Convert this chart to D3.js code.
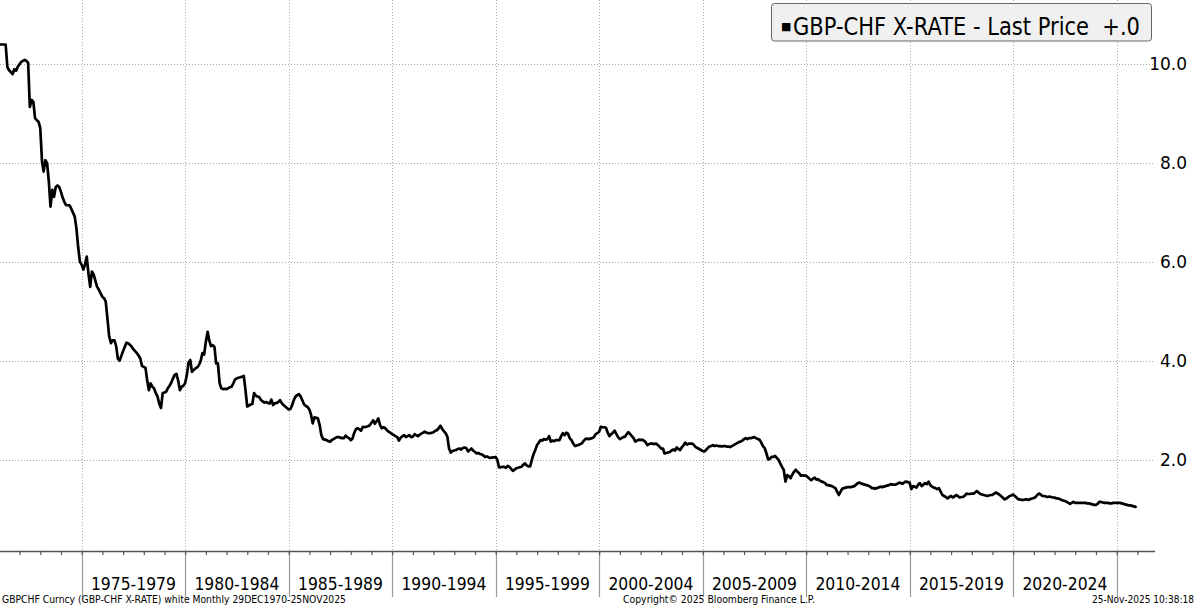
<!DOCTYPE html>
<html><head><meta charset="utf-8">
<script src="https://cdn.jsdelivr.net/npm/d3@7"></script>
<style>html,body{margin:0;padding:0;background:#fff;} svg{display:block;}</style>
</head><body><svg id="chart" width="1200" height="608"></svg>
<script>
// GBP-CHF monthly closes, first value = Dec 1970, one value per month
const rates1970s = [10.40,
  10.40,10.40,10.40,10.40,9.94,9.88,9.84,9.80,9.90,9.87,9.95,10.00,
  10.05,10.07,10.09,10.07,10.03,9.14,9.28,9.24,8.91,8.87,8.84,8.71,
  8.03,7.83,8.06,8.00,7.63,7.12,7.46,7.32,7.52,7.55,7.52,7.42,
  7.30,7.22,7.15,7.15,7.15,7.08,7.00,6.92,6.68,6.30,6.01,5.95,
  5.85,5.95,6.11,5.77,5.50,5.81,5.75,5.62,5.50,5.44,5.37,5.30,
  5.27,5.20,4.85,4.50,4.36,4.42,4.42,4.30,4.05,4.01,4.10,4.20,
  4.29,4.37,4.36,4.33,4.29,4.24,4.20,4.16,4.11,4.05,3.90,3.88,
  3.86,3.62,3.41,3.55,3.48,3.45,3.35,3.28,3.14,3.05,3.35,3.36,
  3.38,3.45,3.50,3.56,3.65,3.72,3.74,3.60,3.41,3.48,3.50,3.55];
const rates1980s = [
  3.72,3.97,4.02,3.78,3.82,3.85,3.87,3.92,4.00,4.16,4.13,4.39,
  4.59,4.42,4.30,4.32,4.29,3.95,3.95,3.55,3.45,3.43,3.44,3.43,
  3.45,3.47,3.48,3.55,3.63,3.65,3.66,3.67,3.68,3.70,3.41,3.08,
  3.10,3.12,3.13,3.35,3.30,3.28,3.27,3.21,3.18,3.16,3.17,3.15,
  3.14,3.22,3.11,3.15,3.15,3.17,3.21,3.15,3.11,3.08,3.05,3.02,
  3.03,3.10,3.21,3.28,3.31,3.33,3.28,3.20,3.12,3.09,3.07,3.02,
  2.91,2.74,2.86,2.85,2.84,2.71,2.50,2.42,2.41,2.40,2.38,2.37,
  2.40,2.42,2.44,2.46,2.46,2.45,2.44,2.44,2.49,2.46,2.44,2.40,
  2.43,2.54,2.62,2.64,2.62,2.59,2.67,2.66,2.67,2.68,2.70,2.75,
  2.80,2.73,2.78,2.84,2.71,2.64,2.66,2.64,2.60,2.57,2.55,2.52];
const rates1990s = [
  2.50,2.48,2.46,2.39,2.45,2.48,2.50,2.46,2.48,2.50,2.46,2.47,
  2.52,2.50,2.48,2.51,2.53,2.55,2.57,2.55,2.54,2.54,2.55,2.56,
  2.59,2.60,2.64,2.69,2.63,2.58,2.54,2.47,2.23,2.15,2.18,2.19,
  2.20,2.22,2.23,2.21,2.24,2.25,2.24,2.17,2.20,2.23,2.19,2.16,
  2.13,2.14,2.12,2.11,2.09,2.06,2.07,2.05,2.04,2.05,2.05,2.06,
  2.00,1.85,1.85,1.86,1.86,1.84,1.88,1.86,1.82,1.78,1.80,1.83,
  1.84,1.85,1.86,1.90,1.93,1.89,1.87,1.87,2.00,2.12,2.20,2.30,
  2.35,2.40,2.39,2.42,2.41,2.42,2.48,2.37,2.39,2.38,2.40,2.40,
  2.40,2.48,2.54,2.50,2.55,2.53,2.44,2.40,2.33,2.28,2.29,2.30,
  2.32,2.33,2.38,2.42,2.43,2.42,2.43,2.44,2.46,2.52,2.54,2.57];
const rates2000s = [
  2.67,2.66,2.66,2.65,2.55,2.48,2.52,2.55,2.59,2.52,2.46,2.42,
  2.44,2.46,2.47,2.52,2.56,2.52,2.48,2.44,2.37,2.39,2.41,2.40,
  2.41,2.39,2.36,2.30,2.32,2.33,2.33,2.32,2.33,2.30,2.27,2.23,
  2.23,2.13,2.14,2.15,2.16,2.19,2.21,2.19,2.25,2.22,2.20,2.26,
  2.30,2.35,2.31,2.33,2.33,2.33,2.30,2.26,2.24,2.22,2.20,2.18,
  2.17,2.20,2.24,2.27,2.28,2.30,2.28,2.29,2.28,2.28,2.27,2.28,
  2.28,2.27,2.27,2.26,2.28,2.30,2.32,2.34,2.36,2.37,2.39,2.42,
  2.44,2.42,2.44,2.44,2.45,2.46,2.44,2.42,2.41,2.35,2.28,2.24,
  2.13,2.01,2.02,2.06,2.06,2.08,2.04,2.00,1.93,1.86,1.80,1.56,
  1.69,1.67,1.63,1.70,1.76,1.80,1.76,1.73,1.68,1.69,1.68,1.68];
const rates2010s = [
  1.65,1.62,1.59,1.62,1.64,1.60,1.61,1.58,1.56,1.55,1.53,1.49,
  1.49,1.48,1.47,1.45,1.43,1.36,1.29,1.36,1.42,1.43,1.44,1.45,
  1.45,1.45,1.46,1.47,1.50,1.53,1.54,1.52,1.51,1.50,1.49,1.48,
  1.46,1.43,1.43,1.42,1.43,1.44,1.46,1.45,1.46,1.47,1.48,1.49,
  1.51,1.50,1.50,1.50,1.52,1.54,1.53,1.52,1.55,1.56,1.55,1.54,
  1.41,1.47,1.46,1.44,1.50,1.53,1.47,1.50,1.53,1.51,1.56,1.49,
  1.46,1.44,1.43,1.41,1.43,1.36,1.29,1.27,1.25,1.22,1.25,1.27,
  1.24,1.26,1.29,1.27,1.24,1.25,1.25,1.28,1.32,1.31,1.31,1.32,
  1.32,1.34,1.37,1.34,1.31,1.30,1.29,1.28,1.27,1.28,1.29,1.29,
  1.32,1.34,1.32,1.30,1.27,1.24,1.20,1.22,1.24,1.27,1.28,1.30];
const rates2020s = [
  1.27,1.24,1.20,1.20,1.19,1.19,1.20,1.20,1.19,1.21,1.22,1.23,
  1.25,1.29,1.32,1.30,1.27,1.27,1.26,1.25,1.26,1.25,1.24,1.24,
  1.22,1.22,1.21,1.19,1.18,1.17,1.15,1.13,1.11,1.13,1.15,1.13,
  1.13,1.13,1.13,1.13,1.13,1.13,1.12,1.12,1.11,1.10,1.09,1.09,
  1.11,1.15,1.15,1.14,1.13,1.13,1.13,1.12,1.12,1.13,1.13,1.13,
  1.13,1.13,1.12,1.11,1.10,1.09,1.08,1.08,1.07,1.06,1.05];

const yTicks = [2, 4, 6, 8, 10];
const gridYears = [1975, 1980, 1985, 1990, 1995, 2000, 2005, 2010, 2015, 2020, 2025];
const periodLabels = ["1975-1979","1980-1984","1985-1989","1990-1994","1995-1999",
  "2000-2004","2005-2009","2010-2014","2015-2019","2020-2024"];
const legendText = "GBP-CHF X-RATE - Last Price\u00a0\u00a0+.0";
const footerLeft = "GBPCHF Curncy (GBP-CHF X-RATE) white Monthly 29DEC1970-25NOV2025";
const footerMid = "Copyright\u00a9 2025 Bloomberg Finance L.P.";
const footerRight = "25-Nov-2025 10:38:18";

const rates = [].concat(rates1970s, rates1980s, rates1990s, rates2000s, rates2010s, rates2020s);
const data = rates.map((v, i) => ({ date: new Date(1970, 12 + i, 0), value: v }));

const FONT = "'DejaVu Sans', sans-serif";
const svg = d3.select("#chart");
const plotL = 0, plotR = 1155, plotT = 0, plotB = 551;

const x = d3.scaleTime().domain([new Date(1975, 0, 1), new Date(2025, 0, 1)]).range([81.7, 1116.7]);
const y = d3.scaleLinear().domain([0, 10]).range([558.8, 64.3]);

svg.append("defs").append("clipPath").attr("id", "clip")
  .append("rect").attr("x", plotL).attr("y", plotT).attr("width", plotR - plotL).attr("height", plotB - plotT);

// horizontal dotted grid
svg.append("g").selectAll("line").data(yTicks).join("line")
  .attr("x1", plotL).attr("x2", plotR - 2)
  .attr("y1", d => Math.round(y(d)) + 0.5).attr("y2", d => Math.round(y(d)) + 0.5)
  .attr("stroke", "#a8a8a8").attr("stroke-width", 1).attr("stroke-dasharray", "1,2");

// vertical dotted grid
const gy = gridYears.map(yr => new Date(yr, 0, 1));
svg.append("g").selectAll("line").data(gy).join("line")
  .attr("x1", d => Math.round(x(d)) + 0.5).attr("x2", d => Math.round(x(d)) + 0.5)
  .attr("y1", plotT).attr("y2", plotB)
  .attr("stroke", "#a8a8a8").attr("stroke-width", 1).attr("stroke-dasharray", "1,2");

// separators below axis
svg.append("g").selectAll("line").data(gy).join("line")
  .attr("x1", d => Math.round(x(d)) + 0.5).attr("x2", d => Math.round(x(d)) + 0.5)
  .attr("y1", plotB).attr("y2", 597)
  .attr("stroke", "#999").attr("stroke-width", 1.2);

// x axis with yearly ticks
const xAxis = d3.axisBottom(x)
  .tickValues(d3.timeYears(new Date(1971, 0, 1), new Date(2027, 0, 1)).filter(d => x(d) > 2 && x(d) < plotR))
  .tickSize(4).tickFormat("");
const ax = svg.append("g").attr("transform", `translate(0,${plotB})`).call(xAxis);
ax.select(".domain").attr("d", `M${plotL},0.5H${plotR}`).attr("stroke", "#555").attr("stroke-width", 1.6);
ax.selectAll(".tick line").attr("stroke", "#555").attr("stroke-width", 1.2);

// right axis labels
svg.append("g").selectAll("text").data(yTicks).join("text")
  .attr("x", 1187).attr("y", d => y(d)).attr("dy", "0.36em")
  .attr("text-anchor", "end").attr("font-family", FONT).attr("font-size", 17)
  .attr("fill", "#000").text(d => d.toFixed(1));

// period labels
svg.append("g").selectAll("text").data(periodLabels).join("text")
  .attr("x", (d, i) => (x(gy[i]) + x(gy[i + 1])) / 2).attr("y", 590)
  .attr("text-anchor", "middle").attr("font-family", FONT).attr("font-size", 18.5)
  .attr("textLength", 85).attr("lengthAdjust", "spacingAndGlyphs")
  .attr("fill", "#000").text(d => d);

// line
const line = d3.line().x(d => x(d.date)).y(d => y(d.value)).curve(d3.curveLinear);
svg.append("path").datum(data).attr("clip-path", "url(#clip)")
  .attr("d", line).attr("fill", "none").attr("stroke", "#000")
  .attr("stroke-width", 2.7).attr("stroke-linejoin", "round").attr("stroke-linecap", "round");

// legend
const lg = svg.append("g");
lg.append("rect").attr("x", 771.5).attr("y", 3.5).attr("width", 380).attr("height", 37.5).attr("rx", 3)
  .attr("fill", "#f0f0f0").attr("stroke", "#666").attr("stroke-width", 1);
lg.append("text").attr("x", 781).attr("y", 30).attr("font-family", FONT).attr("font-size", 11)
  .attr("fill", "#000").text("\u25a0");
lg.append("text").attr("x", 793).attr("y", 35).attr("font-family", FONT).attr("font-size", 24)
  .attr("textLength", 347).attr("lengthAdjust", "spacingAndGlyphs")
  .attr("fill", "#000").text(legendText);

// footer
const ft = svg.append("g").attr("font-family", FONT).attr("font-size", 10).attr("fill", "#000");
ft.append("text").attr("x", 2).attr("y", 603).attr("textLength", 344).attr("lengthAdjust", "spacingAndGlyphs").text(footerLeft);
ft.append("text").attr("x", 623).attr("y", 603).attr("textLength", 192).attr("lengthAdjust", "spacingAndGlyphs").text(footerMid);
ft.append("text").attr("x", 1092).attr("y", 603).attr("textLength", 102).attr("lengthAdjust", "spacingAndGlyphs").text(footerRight);
</script></body></html>
